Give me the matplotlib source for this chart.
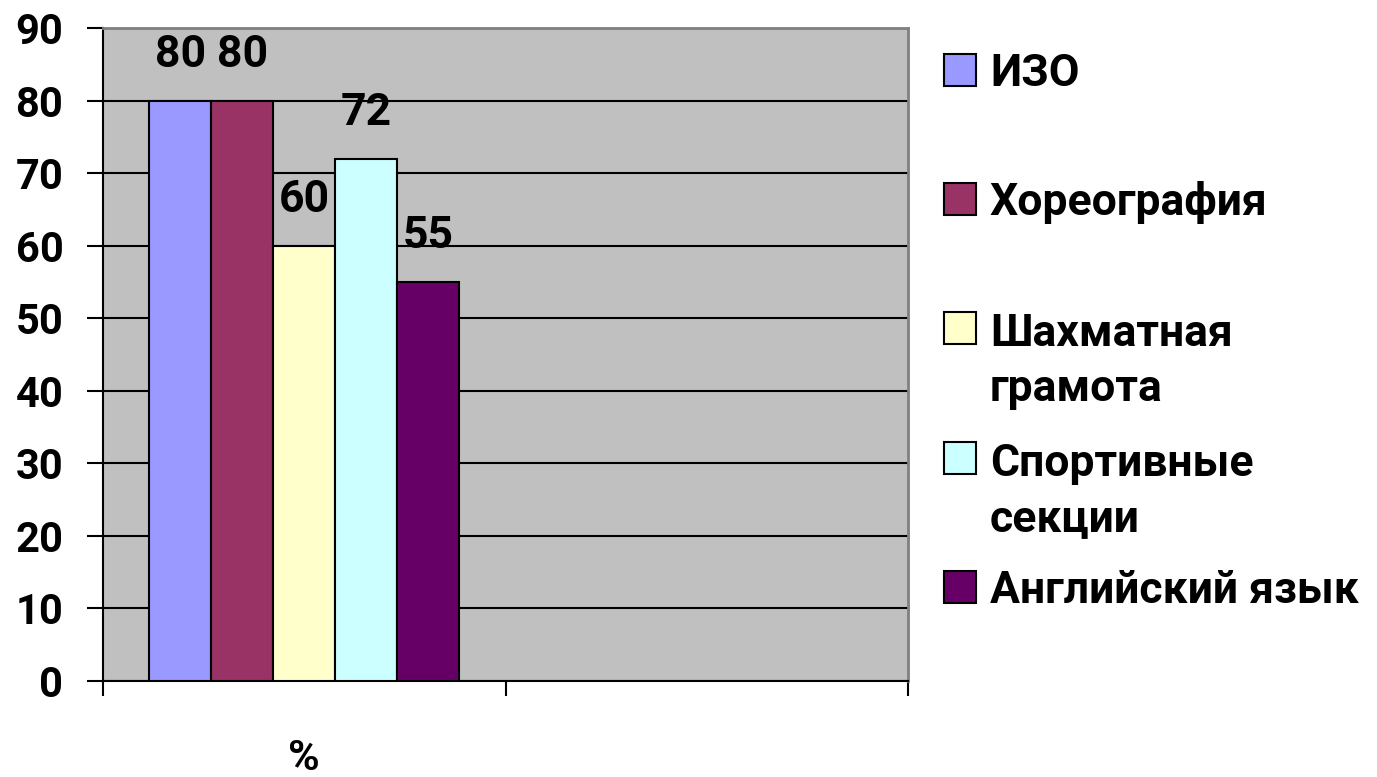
import numpy as np
import matplotlib.pyplot as plt
from matplotlib.patches import Rectangle

plt.rcParams['font.family'] = ['Roboto', 'DejaVu Sans']
plt.rcParams['font.weight'] = 'bold'

# data
categories = ['%', '']
series = ['ИЗО', 'Хореография', 'Шахматная\nграмота', 'Спортивные\nсекции', 'Английский язык']
values = [80, 80, 60, 72, 55]
colors = ['#9999FF', '#993366', '#FFFFCC', '#CCFFFF', '#660066']
yticks = np.arange(0, 91, 10)

W, H = 1377, 777
fig = plt.figure(figsize=(W / 100, H / 100), dpi=100)
ax = fig.add_axes([103 / W, 1 - 681 / H, 805 / W, 653 / H])
ax.set_facecolor('#C0C0C0')

fs = 30
width = 0.154
n = len(series)
for i, (name, v, c) in enumerate(zip(series, values, colors)):
    x = 0 + (i - (n - 1) / 2) * width
    bars = ax.bar([x], [v], width=width, color=c, edgecolor='black', linewidth=1.5, zorder=3)
    ax.bar_label(bars, labels=[str(v)], padding=18, fontsize=32, fontweight='bold')

ax.set_xlim(-0.5, 1.5)
ax.set_ylim(0, 90)
ax.set_yticks(yticks)
ax.set_yticklabels([str(t) for t in yticks], fontsize=fs, fontweight='bold')
ax.tick_params(axis='y', length=11.5, width=1.5, pad=17)
ax.set_xticks([0, 1])
ax.set_xticklabels(categories, fontsize=31, fontweight='bold')
ax.tick_params(axis='x', which='major', length=0, pad=41)
ax.set_xticks([-0.5, 0.5, 1.5], minor=True)
ax.tick_params(axis='x', which='minor', length=11, width=1.5)

ax.yaxis.grid(True, color='black', linewidth=1.5, zorder=1)
ax.set_axisbelow(True)
for s in ['left', 'bottom']:
    ax.spines[s].set_color('black')
    ax.spines[s].set_linewidth(1.5)
for s in ['top', 'right']:
    ax.spines[s].set_color('#808080')
    ax.spines[s].set_linewidth(2)

# legend, drawn by hand so the box sits beside the first line of text
leg_y = [70, 199, 328, 458, 587]
box = 32
line_gap = 57
for name, c, y in zip(series, colors, leg_y):
    fig.add_artist(Rectangle((944 / W, 1 - (y + box / 2) / H), box / W, box / H,
                             facecolor=c, edgecolor='black', linewidth=1.5,
                             transform=fig.transFigure))
    last_base = y + 16 + line_gap * name.count('\n')
    fig.text(990 / W, 1 - last_base / H, name, fontsize=32, fontweight='bold',
             va='baseline', ha='left', linespacing=1.4)

fig.savefig('out.png', dpi=100)
